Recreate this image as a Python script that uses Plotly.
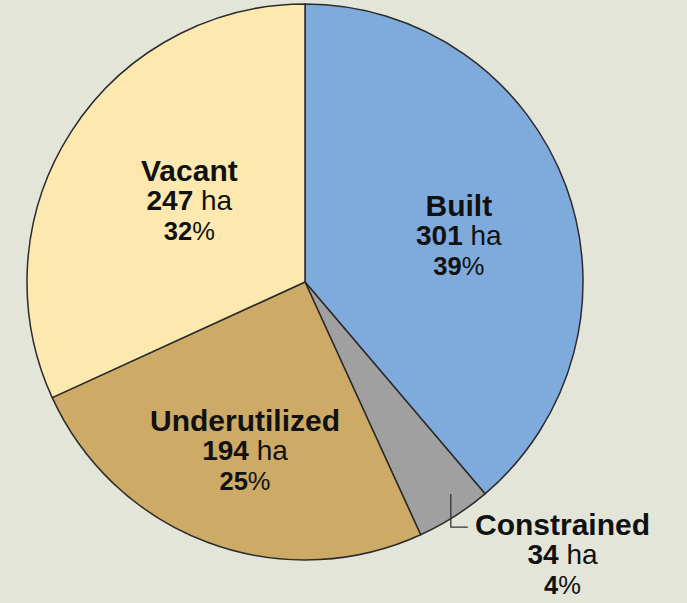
import math
import plotly.graph_objects as go

categories = ["Built", "Constrained", "Underutilized", "Vacant"]
hectares = [301, 34, 194, 247]
percents = [39, 4, 25, 32]
colors = ["#7eabdc", "#a0a0a0", "#cdaa66", "#fde9b0"]

# label placement (fraction of radius along slice mid-angle, plus pixel nudge)
label_radius = {"Built": 0.58, "Constrained": 0.93, "Underutilized": 0.63, "Vacant": 0.51}
label_nudge = {"Built": (3, 8), "Constrained": (7, -6), "Underutilized": (1, 3), "Vacant": (4, -6)}

W, H = 687, 603
CX, CY, R = 305, 282, 278
BG = "#e3e5d8"
FONT = "Liberation Sans, Arial, sans-serif"

fig = go.Figure(go.Pie(
    labels=categories, values=hectares, sort=False, direction="clockwise",
    rotation=0, textinfo="none", hoverinfo="label+value+percent",
    marker=dict(colors=colors, line=dict(color="#2b2b2b", width=1.5)),
    domain=dict(x=[(CX - R) / W, (CX + R) / W], y=[1 - (CY + R) / H, 1 - (CY - R) / H]),
    showlegend=False,
))

def px2paper(x, y):
    return x / W, 1 - y / H

def label_text(name, ha, pct):
    return (f"<span style='font-size:30px'><b>{name}</b></span><br>"
            f"<span style='font-size:28px'><b>{ha}</b> ha</span><br>"
            f"<span style='font-size:25.5px'><b>{pct}</b>%</span>")

total = sum(hectares)
cum = 0
annotations = []
shapes = []
for name, v, pct in zip(categories, hectares, percents):
    mid = (cum + v / 2) / total * 2 * math.pi
    cum += v
    rf = label_radius[name]
    ndx, ndy = label_nudge[name]
    ax = CX + rf * R * math.sin(mid) + ndx
    ay = CY - rf * R * math.cos(mid) + ndy
    if name == "Constrained":
        ly = ay + 33
        x0, y0 = px2paper(ax, ay)
        x1, y1 = px2paper(ax, ly)
        x2, y2 = px2paper(ax + 17, ly)
        shapes.append(dict(type="path", xref="paper", yref="paper",
                           path=f"M {x0},{y0} L {x1},{y1} L {x2},{y2}",
                           line=dict(color="#333333", width=1.3)))
        tx, ty = px2paper(ax + 112, ly + 26)
    else:
        tx, ty = px2paper(ax, ay)
    annotations.append(dict(x=tx, y=ty, xref="paper", yref="paper",
                            text=label_text(name, v, pct), showarrow=False,
                            align="center", xanchor="center", yanchor="middle",
                            font=dict(family=FONT, size=22.5, color="#111111")))

fig.update_layout(
    width=W, height=H, margin=dict(l=0, r=0, t=0, b=0),
    paper_bgcolor=BG, plot_bgcolor=BG,
    annotations=annotations, shapes=shapes,
)
fig.write_html(
    "out.html",
    config={"displayModeBar": False},
    post_script="document.body.style.margin='0';document.body.style.background='#e3e5d8';document.body.style.overflow='hidden';",
)
